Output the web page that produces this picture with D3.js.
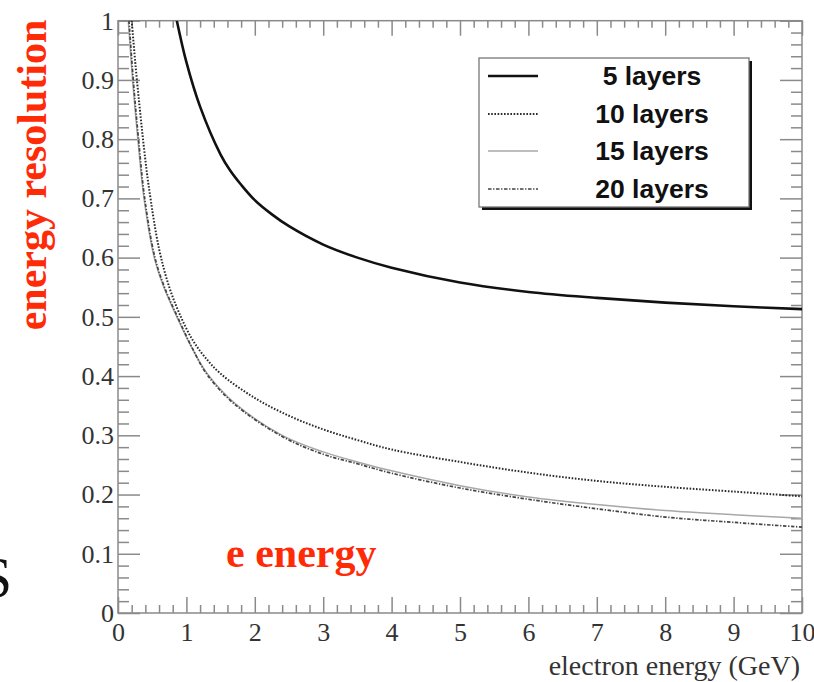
<!DOCTYPE html>
<html>
<head>
<meta charset="utf-8">
<script src="https://cdn.jsdelivr.net/npm/d3@7/dist/d3.min.js"></script>
<style>
html,body{margin:0;padding:0;background:#fff;}
svg{display:block;}
</style>
</head>
<body>
<svg id="chart" width="814" height="682"></svg>
<script>
// ---- data ----
const seriesNames = ["5 layers", "10 layers", "15 layers", "20 layers"];

const e5  = [0.86, 1.0, 1.2, 1.5, 1.64, 1.8, 2.0, 2.25, 2.5, 3.0, 3.5, 4.0, 5.0, 6.0, 7.0, 8.0, 9.0, 10.0];
const r5  = [1.0, 0.93, 0.855, 0.774, 0.747, 0.723, 0.697, 0.673, 0.653, 0.622, 0.6, 0.583, 0.558, 0.542, 0.532, 0.524, 0.518, 0.513];

const e10 = [0.2, 0.26, 0.32, 0.38, 0.45, 0.6, 0.75, 0.9, 1.08, 1.25, 1.5, 2.0, 2.5, 3.0, 3.5, 4.0, 5.0, 6.0, 7.0, 8.0, 9.0, 10.0];
const r10 = [1.0, 0.92, 0.85, 0.785, 0.72, 0.615, 0.55, 0.505, 0.463, 0.435, 0.404, 0.363, 0.333, 0.31, 0.292, 0.276, 0.255, 0.237, 0.223, 0.213, 0.205, 0.197];

const e15 = [0.15, 0.22, 0.29, 0.38, 0.53, 0.67, 0.86, 1.06, 1.3, 1.7, 2.4, 3.0, 3.5, 4.0, 5.0, 6.0, 7.0, 8.0, 9.0, 10.0];
const r15 = [1.0, 0.89, 0.8, 0.7, 0.6, 0.55, 0.5, 0.452, 0.405, 0.355, 0.30, 0.272, 0.255, 0.24, 0.215, 0.196, 0.183, 0.173, 0.166, 0.160];

const e20 = [0.16, 0.23, 0.3, 0.39, 0.54, 0.68, 0.87, 1.07, 1.3, 1.7, 2.4, 3.0, 3.5, 4.0, 5.0, 6.0, 7.0, 8.0, 9.0, 10.0];
const r20 = [1.0, 0.89, 0.8, 0.7, 0.6, 0.55, 0.5, 0.451, 0.403, 0.353, 0.298, 0.268, 0.252, 0.236, 0.211, 0.192, 0.176, 0.162, 0.153, 0.145];

const xTickValues = [0, 1, 2, 3, 4, 5, 6, 7, 8, 9, 10];
const yTickValues = [0, 0.1, 0.2, 0.3, 0.4, 0.5, 0.6, 0.7, 0.8, 0.9, 1];
const yTickLabels = ["0", "0.1", "0.2", "0.3", "0.4", "0.5", "0.6", "0.7", "0.8", "0.9", "1"];

const xTitle = "electron energy (GeV)";
const yTitle = "energy resolution";
const noteText = "e energy";
const edgeText = "S";

// ---- layout ----
const svg = d3.select("#chart");
const L = 118, R = 802, T = 20.7, B = 613;
const x = d3.scaleLinear().domain([0, 10]).range([L, R]);
const y = d3.scaleLinear().domain([0, 1]).range([B, T]);

const frameColor = "#8a8a8a";
const labelColor = "#333";
const serif = "'Liberation Serif','Times New Roman',serif";
const sans = "'Liberation Sans',Arial,Helvetica,sans-serif";
const red = "#ff2a06";

svg.append("defs").append("clipPath").attr("id", "plotclip")
  .append("rect").attr("x", L).attr("y", T).attr("width", R - L).attr("height", B - T);

// minor tick values
const xMinor = d3.range(0, 10.0001, 0.2).map(v => +v.toFixed(2)).filter(v => Math.abs(v - Math.round(v)) > 1e-6);
const yMinor = d3.range(0, 1.0001, 0.02).map(v => +v.toFixed(3)).filter(v => Math.abs(v * 10 - Math.round(v * 10)) > 1e-6);

function styleAxis(g) {
  g.select(".domain").remove();
  g.selectAll(".tick line").attr("stroke", frameColor).attr("stroke-width", 1.5);
  g.selectAll("text").attr("fill", labelColor).attr("font-family", serif).attr("font-size", 26);
}

// bottom axis
svg.append("g").attr("transform", `translate(0,${B})`)
  .call(d3.axisBottom(x).tickValues(xTickValues).tickSize(-16).tickPadding(10).tickFormat(d3.format("d")))
  .call(styleAxis);
svg.append("g").attr("transform", `translate(0,${B})`)
  .call(d3.axisBottom(x).tickValues(xMinor).tickSize(-8).tickFormat(""))
  .call(styleAxis);
// top axis
svg.append("g").attr("transform", `translate(0,${T})`)
  .call(d3.axisTop(x).tickValues(xTickValues).tickSize(-15).tickFormat(""))
  .call(styleAxis);
svg.append("g").attr("transform", `translate(0,${T})`)
  .call(d3.axisTop(x).tickValues(xMinor).tickSize(-7).tickFormat(""))
  .call(styleAxis);
// left axis
svg.append("g").attr("transform", `translate(${L},0)`)
  .call(d3.axisLeft(y).tickValues(yTickValues).tickSize(-22).tickPadding(4)
    .tickFormat((d, i) => yTickLabels[i]))
  .call(styleAxis);
svg.append("g").attr("transform", `translate(${L},0)`)
  .call(d3.axisLeft(y).tickValues(yMinor).tickSize(-11).tickFormat(""))
  .call(styleAxis);
// right axis
svg.append("g").attr("transform", `translate(${R},0)`)
  .call(d3.axisRight(y).tickValues(yTickValues).tickSize(-22).tickFormat(""))
  .call(styleAxis);
svg.append("g").attr("transform", `translate(${R},0)`)
  .call(d3.axisRight(y).tickValues(yMinor).tickSize(-11).tickFormat(""))
  .call(styleAxis);

// frame
svg.append("rect").attr("x", L).attr("y", T).attr("width", R - L).attr("height", B - T)
  .attr("fill", "none").attr("stroke", frameColor).attr("stroke-width", 1.5);

// series
const styles = [
  {stroke: "#111", width: 2.6, dash: null},
  {stroke: "#2a2a2a", width: 2.0, dash: "1.6,1.6"},
  {stroke: "#a8a8a8", width: 1.5, dash: null},
  {stroke: "#444", width: 1.7, dash: "3.5,1.6,1.3,1.6"}
];
const series = [
  {name: seriesNames[0], e: e5, r: r5},
  {name: seriesNames[1], e: e10, r: r10},
  {name: seriesNames[2], e: e15, r: r15},
  {name: seriesNames[3], e: e20, r: r20}
];
const line = d3.line().x(d => x(d[0])).y(d => y(d[1])).curve(d3.curveCatmullRom.alpha(0.5));
const plot = svg.append("g").attr("clip-path", "url(#plotclip)");
series.forEach((s, i) => {
  const pts = s.e.map((v, j) => [v, s.r[j]]);
  plot.append("path").datum(pts).attr("d", line)
    .attr("fill", "none").attr("stroke", styles[i].stroke)
    .attr("stroke-width", styles[i].width)
    .attr("stroke-dasharray", styles[i].dash);
});

// legend
const lg = svg.append("g");
lg.append("rect").attr("x", 482).attr("y", 61).attr("width", 270).attr("height", 149).attr("fill", "#111");
lg.append("rect").attr("x", 479).attr("y", 58).attr("width", 270).attr("height", 149)
  .attr("fill", "#fff").attr("stroke", "#777").attr("stroke-width", 1.3);
const rowY = [76, 114, 151, 189];
series.forEach((s, i) => {
  lg.append("line").attr("x1", 488).attr("x2", 538).attr("y1", rowY[i]).attr("y2", rowY[i])
    .attr("stroke", styles[i].stroke).attr("stroke-width", styles[i].width)
    .attr("stroke-dasharray", styles[i].dash);
  lg.append("text").attr("x", 652).attr("y", rowY[i] + 9).attr("text-anchor", "middle")
    .attr("font-family", sans).attr("font-weight", "bold").attr("font-size", 26.5)
    .attr("fill", "#111").text(s.name);
});

// titles
svg.append("text").attr("x", 800).attr("y", 675).attr("text-anchor", "end")
  .attr("font-family", serif).attr("font-size", 28).attr("fill", labelColor).text(xTitle);
svg.append("text").attr("transform", "translate(46,175) rotate(-90)").attr("text-anchor", "middle")
  .attr("font-family", serif).attr("font-weight", "bold").attr("font-size", 42)
  .attr("fill", red).text(yTitle);
svg.append("text").attr("x", 226).attr("y", 567)
  .attr("font-family", serif).attr("font-weight", "bold").attr("font-size", 42)
  .attr("fill", red).text(noteText);
svg.append("text").attr("x", 12).attr("y", 597).attr("text-anchor", "end")
  .attr("font-family", serif).attr("font-size", 56).attr("fill", "#111").text(edgeText);
</script>
</body>
</html>
